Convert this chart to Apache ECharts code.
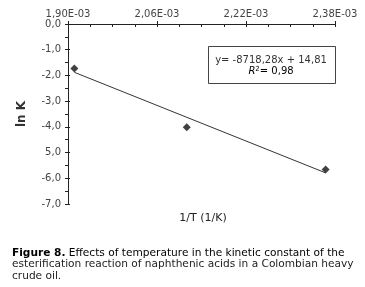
<!DOCTYPE html>
<html>
<head>
<meta charset="utf-8">
<script src="https://cdn.jsdelivr.net/npm/echarts@6/dist/echarts.min.js"></script>
<style>
html,body{margin:0;padding:0;background:#fff;}
#c{width:365px;height:287px;}
</style>
</head>
<body>
<div id="c"></div>
<script>
// ---- data ----
const xTickLabels = ['1,90E-03', '2,06E-03', '2,22E-03', '2,38E-03'];
const yTickLabels = ['0,0', '-1,0', '-2,0', '-3,0', '-4,0', '5,0', '-6,0', '-7,0'];
const invT = [1.9115e-3, 2.1135e-3, 2.3632e-3];   // 1/T (1/K)
const lnK = [-1.73, -4.02, -5.66];
const trendX = [1.9115e-3, 2.3632e-3];
const trendY = [-1.88, -5.79];
const equationLine1 = 'y= -8718,28x + 14,81';
const equationLine2 = '= 0,98';
const xName = '1/T (1/K)';
const yName = 'ln K';
const captionBold = 'Figure 8.';
const captionLines = [
  ' Effects of temperature in the kinetic constant of the',
  'esterification reaction of naphthenic acids in a Colombian heavy',
  'crude oil.'
];

// axis origin for the x scale (shifted so ticks start at the axis minimum)
const xOrigin = 1.90e-3;
const xScale = 1e4;
const toX = v => (v - xOrigin) * xScale;

const FONT = 'DejaVu Sans';
const AX = '#222';
const LBL = '#444';
const CAP = 10.6;

const chart = echarts.init(document.getElementById('c'), null, {renderer: 'canvas'});

const xBase = {
  type: 'value', position: 'top', min: 0, max: 4.8, interval: 1.6,
  splitLine: {show: false}
};
const yBase = {
  type: 'value', min: -7, max: 0, interval: 1, splitLine: {show: false}
};

const option = {
  animation: false,
  textStyle: {fontFamily: FONT},
  grid: {left: 68, right: 30, top: 24, bottom: 83, containLabel: false},
  xAxis: [
    Object.assign({}, xBase, {
      axisLine: {show: true, onZero: false, lineStyle: {color: AX, width: 1}},
      axisTick: {show: true, inside: true, length: 3, lineStyle: {color: AX}},
      minorTick: {show: true, splitNumber: 4, length: 3, lineStyle: {color: AX}},
      axisLabel: {
        show: true, color: LBL, fontSize: 10, fontFamily: FONT, margin: 5,
        formatter: v => xTickLabels[Math.round(v / 1.6)] || ''
      }
    }),
    Object.assign({}, xBase, {
      axisLine: {show: false, onZero: false},
      axisTick: {show: true, inside: false, length: 3, lineStyle: {color: AX}},
      minorTick: {show: false},
      axisLabel: {show: false}
    })
  ],
  yAxis: [
    Object.assign({}, yBase, {
      axisLine: {show: true, onZero: false, lineStyle: {color: AX, width: 1}},
      axisTick: {show: true, inside: false, length: 3, lineStyle: {color: AX}},
      minorTick: {show: true, splitNumber: 2, length: 3, lineStyle: {color: AX}},
      axisLabel: {
        show: true, color: LBL, fontSize: 10, fontFamily: FONT, margin: 7,
        formatter: v => yTickLabels[Math.round(-v)] || ''
      },
      name: yName, nameLocation: 'middle', nameGap: 40, nameRotate: 90,
      nameTextStyle: {color: '#333', fontSize: 12, fontWeight: 'bold', fontFamily: FONT}
    }),
    Object.assign({}, yBase, {
      position: 'left',
      axisLine: {show: false, onZero: false},
      axisTick: {show: true, inside: true, length: 2, lineStyle: {color: AX}},
      minorTick: {show: false},
      axisLabel: {show: false}
    })
  ],
  series: [
    {
      type: 'line', xAxisIndex: 0, yAxisIndex: 0,
      data: trendX.map((x, i) => [toX(x), trendY[i]]),
      symbol: 'none', lineStyle: {color: '#333', width: 1}, silent: true
    },
    {
      type: 'scatter', xAxisIndex: 0, yAxisIndex: 0,
      data: invT.map((x, i) => [toX(x), lnK[i]]),
      symbol: 'diamond', symbolSize: 8, itemStyle: {color: '#111'}
    }
  ],
  graphic: [
    {type: 'rect', shape: {x: 208.5, y: 46.5, width: 127, height: 37},
     style: {fill: '#fff', stroke: '#444', lineWidth: 1}, z: 10},
    {type: 'text', x: 271, y: 60, z: 11,
     style: {text: equationLine1, fill: '#333', font: '10px "' + FONT + '"', align: 'center', verticalAlign: 'middle'}},
    {type: 'text', x: 271, y: 71.5, z: 11,
     style: {text: '{i|R}{s|2}{n|' + equationLine2 + '}', align: 'center', verticalAlign: 'middle',
       rich: {
         i: {fontStyle: 'italic', fontSize: 10, fontFamily: FONT, color: '#333'},
         s: {fontSize: 7, fontFamily: FONT, color: '#333', verticalAlign: 'top', padding: [0,0,5,0]},
         n: {fontSize: 10, fontFamily: FONT, color: '#333'}
       }}},
    {type: 'text', x: 203, y: 218,
     style: {text: xName, fill: '#222', font: '11px "' + FONT + '"', align: 'center', verticalAlign: 'middle'}},
    {type: 'text', x: 12, y: 253,
     style: {text: '{b|' + captionBold + '}{n|' + captionLines[0] + '}', verticalAlign: 'middle',
       rich: {
         b: {fontWeight: 'bold', fontSize: CAP, fontFamily: FONT, color: '#222'},
         n: {fontSize: CAP, fontFamily: FONT, color: '#222'}
       }}},
    {type: 'text', x: 12, y: 264.5,
     style: {text: captionLines[1], fill: '#222', font: CAP + 'px "' + FONT + '"', verticalAlign: 'middle'}},
    {type: 'text', x: 12, y: 276,
     style: {text: captionLines[2], fill: '#222', font: CAP + 'px "' + FONT + '"', verticalAlign: 'middle'}}
  ]
};
chart.setOption(option);
</script>
</body>
</html>
